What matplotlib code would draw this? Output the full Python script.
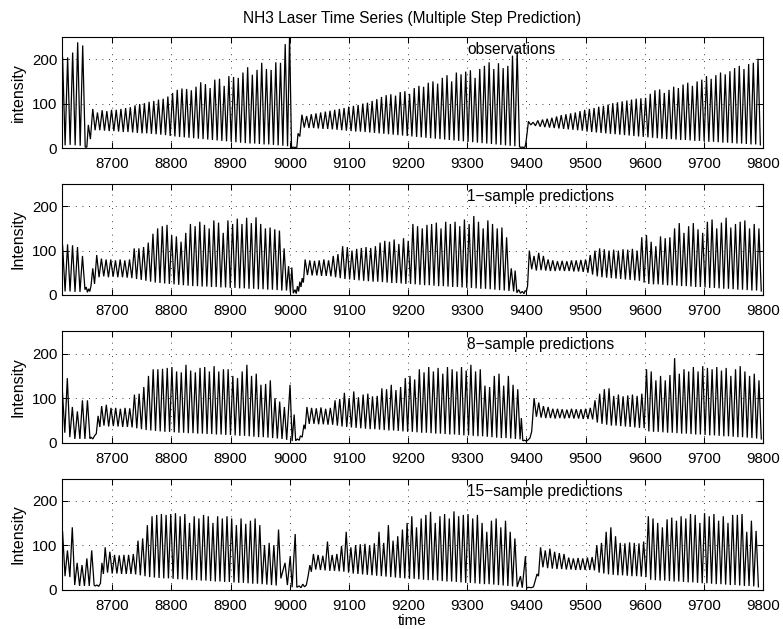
import matplotlib
matplotlib.use("Agg")
import matplotlib.pyplot as plt
import numpy as np

# ---------------------------------------------------------------------------
# Pulse data: each regular stretch is a train of pulses (peak, then trough),
# each gap is a list of explicit (time, value) points.
# ---------------------------------------------------------------------------
FALL = 0.5  # fraction of a pulse period spent on the falling edge

# observations
obs_a_start, obs_a_step = 8616, 8.5
obs_a_peaks = [204, 204, 215, 238, 231]
obs_a_troughs = [6, 7, 6, 5, 2]
obs_g1_t = [8657, 8659.5, 8663]
obs_g1_v = [2, 52, 20]
obs_b_start, obs_b_step = 8667, 7.934
obs_b_peaks = [88, 80, 85, 83, 86, 86, 88, 90, 92, 96,
               99, 101, 104, 106, 109, 111, 116, 124, 131, 134,
               133, 130, 138, 148, 144, 135, 154, 156, 140, 162,
               160, 158, 170, 182, 165, 176, 192, 178, 176, 193,
               192, 234]
obs_b_troughs = [40, 40, 39, 38, 38, 37, 36, 36, 35, 34,
                 33, 33, 32, 31, 30, 29, 27, 26, 25, 24,
                 23, 22, 21, 20, 19, 18, 17, 16, 15, 14,
                 13, 12, 11, 10, 10, 9, 8, 8, 7, 6,
                 5, 4]
obs_g2_t = [8999.7, 9003, 9006, 9009, 9012, 9014, 9017]
obs_g2_v = [255, 0.5, 2, 1, 2, 33, 26]
obs_c_start, obs_c_step = 9020.6, 7.91
obs_c_peaks = [75, 72, 76, 78, 80, 82, 84, 86, 88, 90,
               93, 95, 97, 100, 102, 106, 110, 115, 119, 121,
               118, 126, 128, 122, 135, 140, 138, 147, 150, 145,
               158, 164, 150, 170, 166, 172, 175, 158, 178, 185,
               193, 178, 191, 180, 185, 208, 218]
obs_c_troughs = [46, 45, 45, 44, 43, 43, 42, 41, 40, 39,
                 38, 37, 37, 36, 35, 34, 33, 32, 31, 30,
                 29, 28, 27, 26, 25, 24, 23, 22, 21, 20,
                 19, 18, 17, 16, 15, 14, 13, 12, 11, 10,
                 9, 8, 7, 6, 5, 4, 3]
obs_g3_t = [9390, 9393, 9396, 9398, 9400]
obs_g3_v = [1.5, 2, 1, 3, 20]
obs_d_start, obs_d_step = 9403.5, 7.92
obs_d_peaks = [60, 58, 62, 64, 66, 68, 71, 74, 76, 78,
               80, 83, 86, 88, 90, 93, 95, 98, 101, 103,
               105, 107, 109, 111, 112, 113, 122, 130, 132, 124,
               131, 138, 135, 143, 147, 140, 150, 154, 162, 156,
               164, 170, 166, 173, 180, 185, 178, 189, 192, 201]
obs_d_troughs = [52, 50, 48, 47, 46, 45, 44, 43, 42, 41,
                 40, 39, 37, 36, 35, 34, 33, 32, 31, 30,
                 29, 28, 27, 26, 25, 24, 23, 22, 21, 20,
                 20, 19, 18, 18, 17, 16, 16, 15, 14, 14,
                 13, 12, 12, 11, 10, 10, 9, 8, 8, 7]

# 1-sample predictions
p1_a_start, p1_a_step = 8616, 8.4
p1_a_peaks = [112, 114, 112, 108, 88]
p1_a_troughs = [8, 8, 7, 7, 12]
p1_g1_t = [8656, 8658, 8660, 8662, 8664, 8667, 8670]
p1_g1_v = [18, 6, 14, 8, 20, 60, 25]
p1_b_start, p1_b_step = 8673.7, 7.92
p1_b_peaks = [90, 82, 80, 80, 78, 80, 78, 80, 105, 105, 108,
              118, 138, 150, 155, 158, 135, 132, 120, 140, 160,
              155, 165, 158, 150, 168, 163, 140, 168, 160, 172,
              160, 174, 162, 175, 160, 150, 152, 148, 145, 105]
p1_b_troughs = [40, 42, 40, 41, 40, 40, 39, 38, 36, 34,
                32, 30, 28, 27, 26, 25, 24, 23, 22, 21,
                20, 20, 19, 19, 18, 18, 17, 17, 16, 16,
                15, 15, 14, 14, 13, 13, 12, 12, 11, 10,
                10]
p1_g2_t = [8998, 9001, 9003.5, 9006, 9009, 9011, 9013, 9015, 9017, 9019, 9021, 9023]
p1_g2_v = [65, 6, 62, 4, 12, 3, 20, 8, 30, 18, 38, 28]
p1_c_start, p1_c_step = 9026, 7.92
p1_c_peaks = [80, 78, 77, 78, 80, 78, 88, 92, 110, 108,
              100, 104, 106, 108, 106, 110, 118, 122, 120, 125,
              115, 128, 122, 160, 155, 150, 158, 160, 163, 150,
              165, 160, 165, 155, 170, 160, 178, 165, 150, 168,
              160, 150, 152, 130, 60]
p1_c_troughs = [45, 44, 44, 43, 43, 42, 40, 38, 36, 35,
                34, 33, 32, 31, 30, 30, 29, 28, 27, 27,
                26, 25, 25, 24, 23, 22, 22, 21, 20, 20,
                19, 18, 18, 17, 16, 16, 15, 14, 14, 13,
                12, 11, 10, 9, 8]
p1_g3_t = [9381, 9384, 9387, 9390, 9393, 9396, 9398, 9400, 9402]
p1_g3_v = [55, 5, 12, 4, 8, 3, 10, 8, 20]
p1_d_start, p1_d_step = 9405, 7.92
p1_d_peaks = [100, 88, 95, 88, 80, 78, 76, 77, 76, 78,
              78, 79, 80, 90, 100, 105, 103, 100, 102, 100,
              103, 102, 104, 100, 130, 135, 120, 110, 132, 128,
              130, 150, 162, 140, 155, 162, 148, 140, 165, 170,
              150, 163, 174, 152, 160, 165, 168, 150, 160, 150]
p1_d_troughs = [58, 55, 56, 55, 54, 54, 55, 54, 54, 53,
                53, 52, 50, 46, 42, 40, 39, 38, 37, 36,
                35, 34, 33, 32, 28, 25, 24, 24, 23, 22,
                22, 21, 20, 20, 19, 18, 18, 17, 16, 16,
                15, 14, 14, 13, 12, 12, 11, 10, 10, 9]

# 8-sample predictions
p8_a_start, p8_a_step = 8615.5, 8.5
p8_a_peaks = [120, 145, 80, 70, 95, 95]
p8_a_troughs = [22, 12, 8, 8, 8, 9]
p8_g1_t = [8664, 8667, 8670, 8673, 8676, 8679]
p8_g1_v = [12, 8, 15, 20, 60, 35]
p8_b_start, p8_b_step = 8682, 7.92
p8_b_peaks = [82, 85, 78, 78, 76, 78, 77, 108, 110, 125,
              150, 165, 165, 166, 168, 170, 160, 158, 175, 162,
              158, 168, 170, 160, 172, 160, 165, 165, 150, 145,
              160, 175, 150, 155, 130, 132, 140, 100, 92, 80]
p8_b_troughs = [38, 36, 37, 36, 35, 35, 34, 32, 30, 28,
                27, 26, 25, 24, 24, 23, 22, 22, 21, 21,
                20, 20, 19, 19, 18, 18, 17, 17, 16, 15,
                15, 14, 13, 12, 12, 11, 10, 9, 8, 6]
p8_g2_t = [9000.5, 9004, 9007.5, 9010, 9013, 9016, 9018, 9021, 9024, 9026]
p8_g2_v = [130, 3, 63, 4, 8, 5, 15, 12, 40, 30]
p8_c_start, p8_c_step = 9029, 7.92
p8_c_peaks = [80, 78, 77, 79, 76, 78, 95, 98, 112, 100,
              115, 102, 108, 110, 104, 105, 122, 120, 130, 118,
              125, 145, 150, 142, 165, 158, 170, 160, 168, 155,
              170, 165, 160, 170, 162, 175, 160, 165, 128, 125,
              150, 155, 128, 150, 130, 120]
p8_c_troughs = [42, 42, 41, 41, 40, 40, 38, 36, 35, 34,
                33, 32, 31, 30, 30, 29, 28, 27, 27, 26,
                25, 24, 24, 23, 22, 22, 21, 20, 20, 19,
                18, 18, 17, 16, 16, 15, 14, 14, 13, 12,
                11, 10, 10, 9, 8, 7]
p8_g3_t = [9391.5, 9394, 9397, 9400, 9403, 9406, 9409]
p8_g3_v = [55, 4, 5, 3, 6, 10, 25]
p8_d_start, p8_d_step = 9413, 7.92
p8_d_peaks = [100, 90, 82, 80, 76, 76, 75, 74, 76, 75,
              75, 76, 78, 95, 110, 120, 122, 105, 108, 104,
              106, 108, 105, 110, 165, 160, 140, 150, 140, 152,
              190, 155, 165, 160, 170, 160, 172, 168, 165, 170,
              162, 168, 150, 165, 172, 160, 150, 155, 140]
p8_d_troughs = [58, 56, 55, 55, 54, 55, 54, 55, 54, 54,
                53, 53, 52, 45, 42, 40, 38, 38, 37, 36,
                35, 34, 33, 32, 25, 24, 24, 23, 22, 22,
                21, 20, 20, 19, 18, 18, 17, 16, 16, 15,
                14, 14, 13, 12, 12, 11, 10, 9, 8]

# 15-sample predictions
p15_a_start, p15_a_step = 8616, 8.2
p15_a_peaks = [130, 88, 140, 60, 55, 70, 88]
p15_a_troughs = [30, 28, 10, 8, 8, 8, 10]
p15_g1_t = [8671, 8674, 8677, 8680, 8682.5, 8685]
p15_g1_v = [8, 10, 7, 14, 60, 35]
p15_b_start, p15_b_step = 8688, 7.92
p15_b_peaks = [95, 85, 78, 77, 78, 78, 80, 110, 115, 145,
               165, 168, 170, 168, 170, 172, 165, 170, 150, 165,
               160, 168, 165, 150, 165, 160, 165, 160, 145, 160,
               148, 155, 160, 145, 100, 105, 100, 135]
p15_b_troughs = [38, 36, 36, 35, 35, 35, 34, 32, 30, 28,
                 27, 26, 25, 25, 24, 23, 23, 22, 21, 21,
                 20, 20, 19, 18, 18, 17, 17, 16, 15, 15,
                 14, 13, 13, 12, 11, 10, 9, 25]
p15_g2_t = [8992, 8996, 9000.8, 9004, 9009.2, 9012, 9016, 9019, 9022, 9025, 9028, 9031, 9034, 9036.5]
p15_g2_v = [60, 10, 75, 5, 125, 5, 8, 4, 12, 6, 10, 30, 55, 40]
p15_c_start, p15_c_step = 9040, 7.92
p15_c_peaks = [80, 78, 76, 108, 78, 80, 98, 130, 95, 100,
               102, 103, 100, 104, 130, 105, 145, 110, 120, 135,
               150, 165, 140, 160, 168, 175, 150, 165, 170, 160,
               176, 165, 168, 170, 160, 168, 150, 130, 155, 160,
               140, 155, 130, 115]
p15_c_troughs = [45, 44, 43, 42, 42, 41, 40, 38, 36, 35,
                 34, 33, 32, 31, 30, 29, 28, 27, 26, 25,
                 24, 24, 23, 22, 21, 21, 20, 19, 18, 18,
                 17, 16, 15, 15, 14, 13, 12, 12, 11, 10,
                 9, 8, 7, 6]
p15_g3_t = [9390, 9393, 9398.4, 9400.5, 9404, 9408, 9412, 9415, 9418, 9420.5]
p15_g3_v = [30, 4, 75, 3, 5, 4, 6, 20, 35, 30]
p15_d_start, p15_d_step = 9424, 7.92
p15_d_peaks = [95, 88, 92, 85, 82, 80, 72, 70, 71, 70,
               72, 73, 100, 105, 130, 140, 120, 105, 104, 106,
               105, 104, 108, 165, 160, 150, 140, 158, 162, 155,
               165, 160, 170, 168, 150, 172, 165, 170, 155, 165,
               150, 168, 168, 170, 130, 155, 132]
p15_d_troughs = [50, 48, 47, 46, 46, 45, 45, 44, 44, 44,
                 44, 43, 38, 36, 34, 33, 32, 32, 31, 30,
                 30, 29, 28, 22, 21, 20, 20, 19, 18, 18,
                 17, 16, 16, 15, 14, 14, 13, 12, 12, 11,
                 10, 10, 9, 8, 8, 7, 6]

panel_titles = ["observations", "1\u2212sample predictions",
                "8\u2212sample predictions", "15\u2212sample predictions"]
panel_ylabels = ["intensity", "Intensity", "Intensity", "Intensity"]
x_ticks = [8700, 8800, 8900, 9000, 9100, 9200, 9300, 9400, 9500, 9600, 9700, 9800]
y_ticks = [0, 100, 200]


def pulses(start, step, peaks, troughs):
    assert len(peaks) == len(troughs)
    t, v = [], []
    for k, (p, q) in enumerate(zip(peaks, troughs)):
        t += [start + k * step, start + (k + FALL) * step]
        v += [p, q]
    return t, v


def series(parts):
    t_all, v_all = [], []
    for part in parts:
        if len(part) == 4:
            t, v = pulses(*part)
        else:
            t, v = part
        t_all += list(t)
        v_all += list(v)
    t_all = np.asarray(t_all, float)
    assert np.all(np.diff(t_all) > 0)
    return t_all, np.asarray(v_all, float)


panels = [
    series([(obs_a_start, obs_a_step, obs_a_peaks, obs_a_troughs), (obs_g1_t, obs_g1_v),
            (obs_b_start, obs_b_step, obs_b_peaks, obs_b_troughs), (obs_g2_t, obs_g2_v),
            (obs_c_start, obs_c_step, obs_c_peaks, obs_c_troughs), (obs_g3_t, obs_g3_v),
            (obs_d_start, obs_d_step, obs_d_peaks, obs_d_troughs)]),
    series([(p1_a_start, p1_a_step, p1_a_peaks, p1_a_troughs), (p1_g1_t, p1_g1_v),
            (p1_b_start, p1_b_step, p1_b_peaks, p1_b_troughs), (p1_g2_t, p1_g2_v),
            (p1_c_start, p1_c_step, p1_c_peaks, p1_c_troughs), (p1_g3_t, p1_g3_v),
            (p1_d_start, p1_d_step, p1_d_peaks, p1_d_troughs)]),
    series([(p8_a_start, p8_a_step, p8_a_peaks, p8_a_troughs), (p8_g1_t, p8_g1_v),
            (p8_b_start, p8_b_step, p8_b_peaks, p8_b_troughs), (p8_g2_t, p8_g2_v),
            (p8_c_start, p8_c_step, p8_c_peaks, p8_c_troughs), (p8_g3_t, p8_g3_v),
            (p8_d_start, p8_d_step, p8_d_peaks, p8_d_troughs)]),
    series([(p15_a_start, p15_a_step, p15_a_peaks, p15_a_troughs), (p15_g1_t, p15_g1_v),
            (p15_b_start, p15_b_step, p15_b_peaks, p15_b_troughs), (p15_g2_t, p15_g2_v),
            (p15_c_start, p15_c_step, p15_c_peaks, p15_c_troughs), (p15_g3_t, p15_g3_v),
            (p15_d_start, p15_d_step, p15_d_peaks, p15_d_troughs)]),
]

plt.rcParams["font.family"] = ["Liberation Sans", "DejaVu Sans"]
plt.rcParams["font.size"] = 11

W, H = 783, 629
fig = plt.figure(figsize=(W / 100, H / 100), dpi=100)

ax_left, ax_right = 62, 763
ax_tops = [37, 184, 331.5, 478.5]
ax_h = 111

for i, (t, v) in enumerate(panels):
    top = ax_tops[i]
    ax = fig.add_axes([ax_left / W, 1 - (top + ax_h) / H, (ax_right - ax_left) / W, ax_h / H])
    ax.plot(t, v, color="black", lw=0.9, solid_joinstyle="miter")
    ax.set_xlim(8615, 9800)
    ax.set_ylim(0, 250)
    ax.set_xticks(x_ticks)
    ax.set_yticks(y_ticks)
    ax.grid(True, color="black", lw=0.6, linestyle=(0, (1, 7)))
    ax.tick_params(direction="in", top=True, right=True, length=4, width=0.75,
                   labelsize=10.8)
    ax.tick_params(axis="x", pad=6.5)
    ax.tick_params(axis="y", pad=3.5)
    for s in ax.spines.values():
        s.set_linewidth(0.8)
    ax.set_ylabel(panel_ylabels[i], fontsize=11.5)
    ax.yaxis.set_label_coords(-0.052, 0.5)
    ax.text(9300, 221, panel_titles[i], ha="left", va="center", fontsize=11.2)
    if i == 3:
        ax.set_xlabel("time", fontsize=11, labelpad=1)

fig.text((ax_left + ax_right) / 2 / W, 1 - 18 / H,
         "NH3 Laser Time Series (Multiple Step Prediction)",
         ha="center", va="center", fontsize=11.2)

fig.savefig("out.png", dpi=100)
